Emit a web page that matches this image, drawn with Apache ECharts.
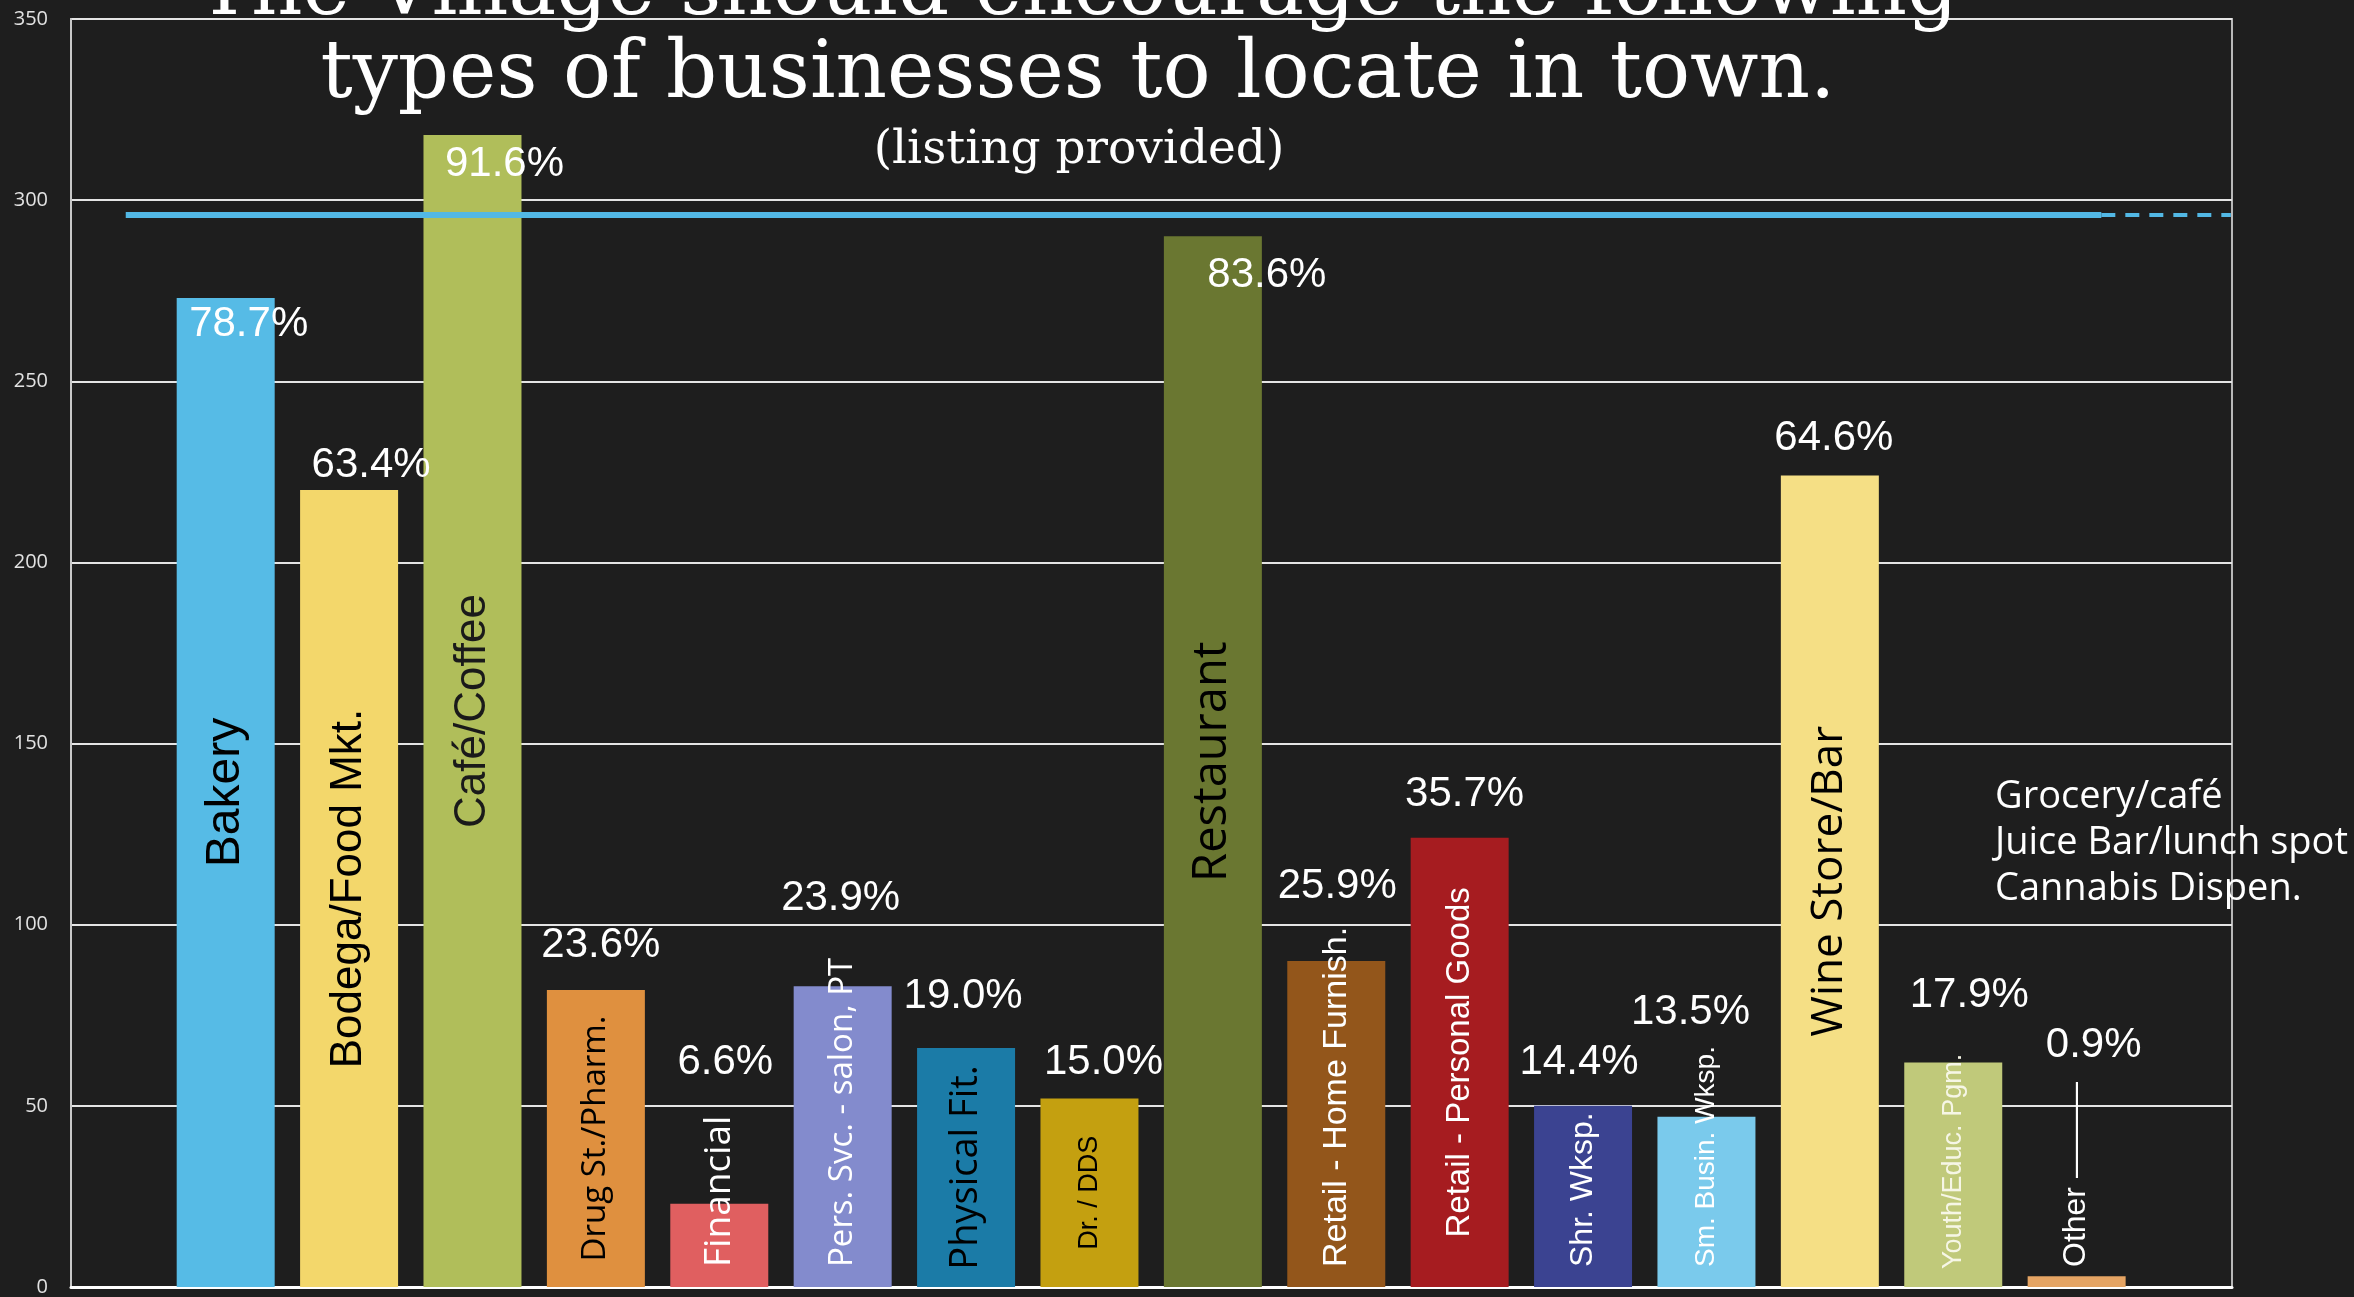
<!DOCTYPE html>
<html>
<head>
<meta charset="utf-8">
<script src="https://cdn.jsdelivr.net/npm/echarts@6/dist/echarts.min.js"></script>
<style>
html,body{margin:0;padding:0;background:#1e1e1e;}
#chart{width:2354px;height:1297px;}
</style>
</head>
<body>
<div id="chart"></div>
<script>
// ---- data ----
const categories = ['Bakery','Bodega/Food Mkt.','Café/Coffee','Drug St./Pharm.','Financial','Pers. Svc. - salon, PT','Physical Fit.','Dr. / DDS','Restaurant','Retail - Home Furnish.','Retail - Personal Goods','Shr. Wksp.','Sm. Busin. Wksp.','Wine Store/Bar','Youth/Educ. Pgm.','Other'];
const responses = [273, 220, 318, 82, 23, 83, 66, 52, 290, 90, 124, 50, 47, 224, 62, 3];
const percents = [78.7, 63.4, 91.6, 23.6, 6.6, 23.9, 19.0, 15.0, 83.6, 25.9, 35.7, 14.4, 13.5, 64.6, 17.9, 0.9];
const yMin = 0, yMax = 350, yStep = 50;
const otherResponses = ['Grocery/café', 'Juice Bar/lunch spot', 'Cannabis Dispen.'];
const titleLines = ['The Village should encourage the following', 'types of businesses to locate in town.'];
const subtitle = '(listing provided)';
const chalkLineValue = 296;

// ---- styles ----
const barColors = ['#56bbe6','#f3d76b','#b0be5a','#df903f','#e05f60','#838bcd','#1b7ba7','#c4a010','#6a7731','#93561b','#a61c20','#3b4391','#7acaec','#f5df85','#c0c97a','#e5a463'];
const SANS = 'Liberation Sans', OPEN = 'Open Sans';
const catLabelStyle = [
  {f: SANS, s: 48, c: '#000', p: 'inside'},
  {f: SANS, s: 44, c: '#000', p: 'inside'},
  {f: SANS, s: 44, c: '#1a1a1a', p: 'inside'},
  {f: OPEN, s: 33, c: '#000', p: 'inside'},
  {f: OPEN, s: 37, c: '#fff', p: 'insideBottom', d: 20},
  {f: OPEN, s: 33, c: '#fff', p: 'insideBottom', d: 20},
  {f: OPEN, s: 38, c: '#000', p: 'inside'},
  {f: SANS, s: 27, c: '#000', p: 'inside'},
  {f: OPEN, s: 47, c: '#000', p: 'inside'},
  {f: SANS, s: 34, c: '#fff', p: 'insideBottom', d: 20},
  {f: SANS, s: 33, c: '#fff', p: 'inside'},
  {f: SANS, s: 32, c: '#fff', p: 'insideBottom', d: 20},
  {f: SANS, s: 28, c: '#fff', p: 'insideBottom', d: 20},
  {f: OPEN, s: 44, c: '#000', p: 'inside'},
  {f: SANS, s: 27, c: '#f6f6e6', p: 'insideBottom', d: 18},
  {f: SANS, s: 32, c: '#fff', p: 'insideBottom', d: 20, suffix: ' ———'}
];
// percentage label offsets [dx, dy] relative to bar top centre
const pctOffset = [[23,26],[22,-25],[32,29],[5,-45],[6,-141],[-2,-88],[-3,-51],[14,-36],[54,39],[1,-75],[5,-43],[-4,-43],[-16,-104],[4,-37],[16,-67],[17,-231]];

const chart = echarts.init(document.getElementById('chart'));

const barData = responses.map((v, i) => {
  const st = catLabelStyle[i];
  const inside = st.p === 'inside';
  return {
    value: [i, v],
    itemStyle: {color: barColors[i]},
    label: {
      show: true,
      formatter: categories[i] + (st.suffix || ''),
      rotate: 90,
      position: st.p,
      distance: st.d || 0,
      align: inside ? 'center' : 'left',
      verticalAlign: 'middle',
      fontFamily: st.f,
      fontSize: st.s,
      color: st.c
    }
  };
});

const pctData = responses.map((v, i) => ({
  value: [i, v],
  label: {offset: pctOffset[i]}
}));

chart.setOption({
  animation: false,
  backgroundColor: '#1e1e1e',
  title: [
    {
      text: titleLines.join('\n'), left: 1078, top: -48, textAlign: 'center', padding: 0,
      textStyle: {fontFamily: 'DejaVu Serif', fontSize: 80, fontWeight: 'normal', color: '#ffffff', lineHeight: 83}
    },
    {
      text: subtitle, left: 1079, top: 126, textAlign: 'center', padding: 0,
      textStyle: {fontFamily: 'DejaVu Serif', fontSize: 47, fontWeight: 'normal', color: '#ffffff', lineHeight: 50}
    },
    {
      text: otherResponses.join('\n'), left: 1995, top: 774, padding: 0,
      textStyle: {fontFamily: OPEN, fontSize: 38, fontWeight: 'normal', color: '#ffffff', lineHeight: 46}
    }
  ],
  grid: {
    left: 71, right: 122, top: 19, bottom: 9,
    show: true, borderColor: '#b8b8b8', borderWidth: 2, backgroundColor: 'transparent'
  },
  xAxis: {
    type: 'value', min: -1.2536, max: 16.259,
    axisLine: {show: true, onZero: false, lineStyle: {color: '#ffffff', width: 3}},
    axisTick: {show: false}, axisLabel: {show: false}, splitLine: {show: false}
  },
  yAxis: {
    type: 'value', min: yMin, max: yMax, interval: yStep,
    axisLine: {show: true, onZero: false, lineStyle: {color: '#c8c8c8', width: 2}},
    axisTick: {show: false},
    axisLabel: {color: '#e2e2e2', fontFamily: OPEN, fontSize: 20, margin: 23},
    splitLine: {show: true, lineStyle: {color: '#e4e4e4', width: 2}}
  },
  series: [
    {
      type: 'line', data: [], z: 1, silent: true,
      markLine: {
        silent: true, symbol: ['none', 'none'], label: {show: false},
        lineStyle: {color: '#52b8e5', width: 6, type: 'solid', opacity: 1},
        emphasis: {disabled: true},
        data: [
          [{coord: [-0.81, chalkLineValue]}, {coord: [15.2, chalkLineValue]}],
          [{coord: [15.2, chalkLineValue], lineStyle: {type: [14, 10], width: 4}}, {coord: [16.25, chalkLineValue]}]
        ]
      }
    },
    {
      type: 'bar', data: barData, barWidth: 98, z: 3, silent: true
    },
    {
      type: 'scatter', data: pctData, symbolSize: 1, z: 5, silent: true,
      itemStyle: {color: 'rgba(0,0,0,0)', opacity: 1},
      label: {
        show: true, position: 'inside', opacity: 1,
        formatter: p => percents[p.dataIndex].toFixed(1) + '%',
        fontFamily: SANS, fontSize: 42, color: '#ffffff'
      }
    }
  ]
});
</script>
</body>
</html>
